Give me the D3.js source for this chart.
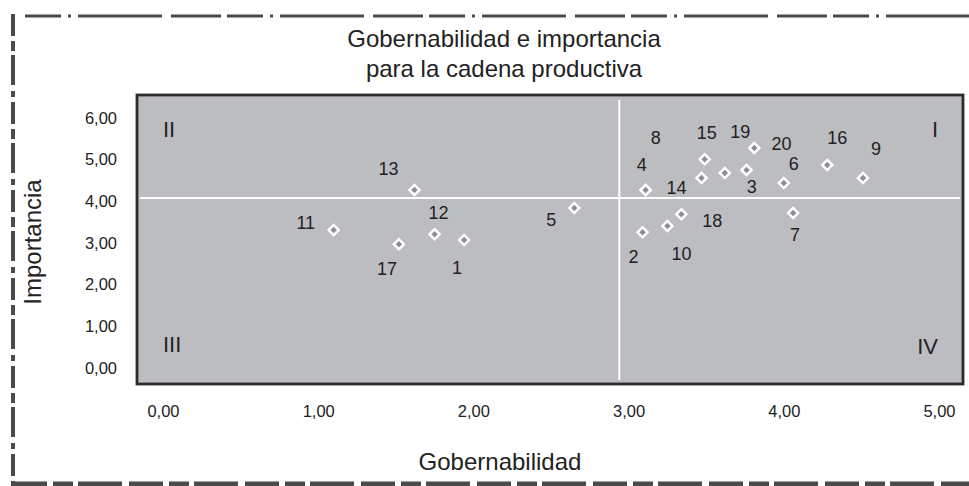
<!DOCTYPE html>
<html>
  <head>
    <meta http-equiv="Content-Type" content="text/html;charset=utf-8"/>
    <title>Gobernabilidad e importancia</title>
    <script src="https://d3js.org/d3.v7.min.js"></script>
  </head>
  <body>
    <style>
      body { margin: 0; background: #fff; }
      svg { display: block; font-family: "Liberation Sans", Arial, sans-serif; }
    </style>
    <script type="text/javascript">

        // data
        const ids = [1, 2, 3, 4, 5, 6, 7, 8, 9, 10, 11, 12, 13, 14, 15, 16, 17, 18, 19, 20]
        const gobernabilidad = [1.94, 3.09, 3.62, 3.11, 2.65, 4.00, 4.06, 3.11, 4.51, 3.25,
                                1.10, 1.75, 1.62, 3.47, 3.49, 4.28, 1.52, 3.34, 3.81, 3.76]
        const importancia = [3.07, 3.26, 4.68, 4.27, 3.84, 4.44, 3.72, 4.27, 4.56, 3.41,
                             3.31, 3.21, 4.27, 4.56, 5.01, 4.87, 2.97, 3.69, 5.28, 4.75]
        const xTicks = [0, 1, 2, 3, 4, 5]
        const yTicks = [0, 1, 2, 3, 4, 5, 6]
        const cutX = 2.94, cutY = 4.08
        const quadrants = ['I', 'II', 'III', 'IV']

        // where each number sits relative to its diamond (px)
        const labelOffsets = [[-7, 27], [-9, 24], [27, 14], [-4, -26], [-23, 12], [10, -19], [2, 22],
                              [10, -53], [13, -29], [14, 28], [-28, -8], [4, -22], [-26, -22],
                              [-25, 10], [2, -27], [10, -28], [-12, 24], [31, 6], [-14, -16], [35, -27]]

        const width = 969,
            height = 486
        const box = { left: 137, top: 95, right: 963, bottom: 384 }

        const svg = d3.select('body').append('svg')
            .attr('width', width)
            .attr('height', height)

        const x = d3.scaleLinear().domain([0, 5]).range([163, 939])
        const y = d3.scaleLinear().domain([0, 6]).range([368, 118])

        const fmt = d3.formatLocale({ decimal: ',', thousands: '.', grouping: [3], currency: ['', ''] }).format('.2f')

        // rough scanned frame
        const frame = svg.append('g').attr('fill', 'none').attr('stroke', '#4a4a4a')
        frame.append('line')
            .attr('x1', 25).attr('y1', 16).attr('x2', width).attr('y2', 16)
            .attr('stroke-width', 3)
            .attr('stroke-dasharray', '36,7,3,7,84,9,50,6')
        frame.append('line')
            .attr('x1', 13).attr('y1', 14).attr('x2', 13).attr('y2', height)
            .attr('stroke-width', 4)
            .attr('stroke-dasharray', '22,5,10,4,30,6,6,5')
        frame.append('line')
            .attr('x1', 13).attr('y1', 484).attr('x2', width).attr('y2', 484)
            .attr('stroke-width', 5)
            .attr('stroke-dasharray', '34,6,20,5,44,7')

        // title
        const title = svg.append('text')
            .attr('text-anchor', 'middle')
            .attr('font-size', 24)
            .attr('fill', '#222')
        title.append('tspan').attr('x', 504).attr('y', 47).text('Gobernabilidad e importancia')
        title.append('tspan').attr('x', 504).attr('y', 77).text('para la cadena productiva')

        // plot panel
        svg.append('rect')
            .attr('x', box.left).attr('y', box.top)
            .attr('width', box.right - box.left).attr('height', box.bottom - box.top)
            .attr('fill', '#bcbdc1')
            .attr('stroke', '#2b2b2b')
            .attr('stroke-width', 2.8)

        svg.append('line')
            .attr('x1', box.left + 3).attr('x2', box.right - 3)
            .attr('y1', y(cutY)).attr('y2', y(cutY))
            .attr('stroke', '#fff').attr('stroke-width', 2)
        svg.append('line')
            .attr('x1', x(cutX)).attr('x2', x(cutX))
            .attr('y1', box.top + 5).attr('y2', box.bottom - 4)
            .attr('stroke', '#fff').attr('stroke-width', 2)

        // axes
        const yAxis = svg.append('g')
            .attr('transform', 'translate(117,0)')
            .call(d3.axisLeft(y).tickValues(yTicks).tickFormat(fmt).tickSize(0).tickPadding(0))
        const xAxis = svg.append('g')
            .attr('transform', 'translate(0,405)')
            .call(d3.axisBottom(x).tickValues(xTicks).tickFormat(fmt).tickSize(0).tickPadding(0))
        ;[xAxis, yAxis].forEach(a => {
            a.select('.domain').remove()
            a.selectAll('text')
                .attr('font-size', 16.5)
                .attr('font-family', '"Liberation Sans", Arial, sans-serif')
                .attr('fill', '#222')
        })

        svg.append('text')
            .attr('x', 500).attr('y', 470)
            .attr('text-anchor', 'middle')
            .attr('font-size', 24)
            .attr('fill', '#222')
            .text('Gobernabilidad')
        svg.append('text')
            .attr('transform', 'translate(41,242) rotate(-90)')
            .attr('text-anchor', 'middle')
            .attr('font-size', 24)
            .attr('fill', '#222')
            .text('Importancia')

        // quadrant numerals
        const quadPos = [[938, 137, 'end'], [163, 137, 'start'], [163, 352, 'start'], [938, 354, 'end']]
        svg.selectAll('.quad')
            .data(quadrants)
            .enter()
            .append('text')
            .attr('class', 'quad')
            .attr('x', (d, i) => quadPos[i][0])
            .attr('y', (d, i) => quadPos[i][1])
            .attr('text-anchor', (d, i) => quadPos[i][2])
            .attr('font-size', 22)
            .attr('fill', '#222')
            .text(d => d)

        // points
        const points = ids.map((id, i) => ({ id: id, gx: gobernabilidad[i], iy: importancia[i], off: labelOffsets[i] }))

        svg.selectAll('.pt')
            .data(points)
            .enter()
            .append('path')
            .attr('class', 'pt')
            .attr('d', d3.symbol().type(d3.symbolSquare).size(50))
            .attr('transform', d => `translate(${x(d.gx)},${y(d.iy)}) rotate(45)`)
            .attr('fill', '#8d8e92')
            .attr('stroke', '#fff')
            .attr('stroke-width', 2.5)

        svg.selectAll('.lbl')
            .data(points)
            .enter()
            .append('text')
            .attr('class', 'lbl')
            .attr('x', d => x(d.gx) + d.off[0])
            .attr('y', d => y(d.iy) + d.off[1])
            .attr('dy', '0.36em')
            .attr('text-anchor', 'middle')
            .attr('font-size', 18)
            .attr('fill', '#222')
            .text(d => d.id)

    </script>
  </body>
</html>
